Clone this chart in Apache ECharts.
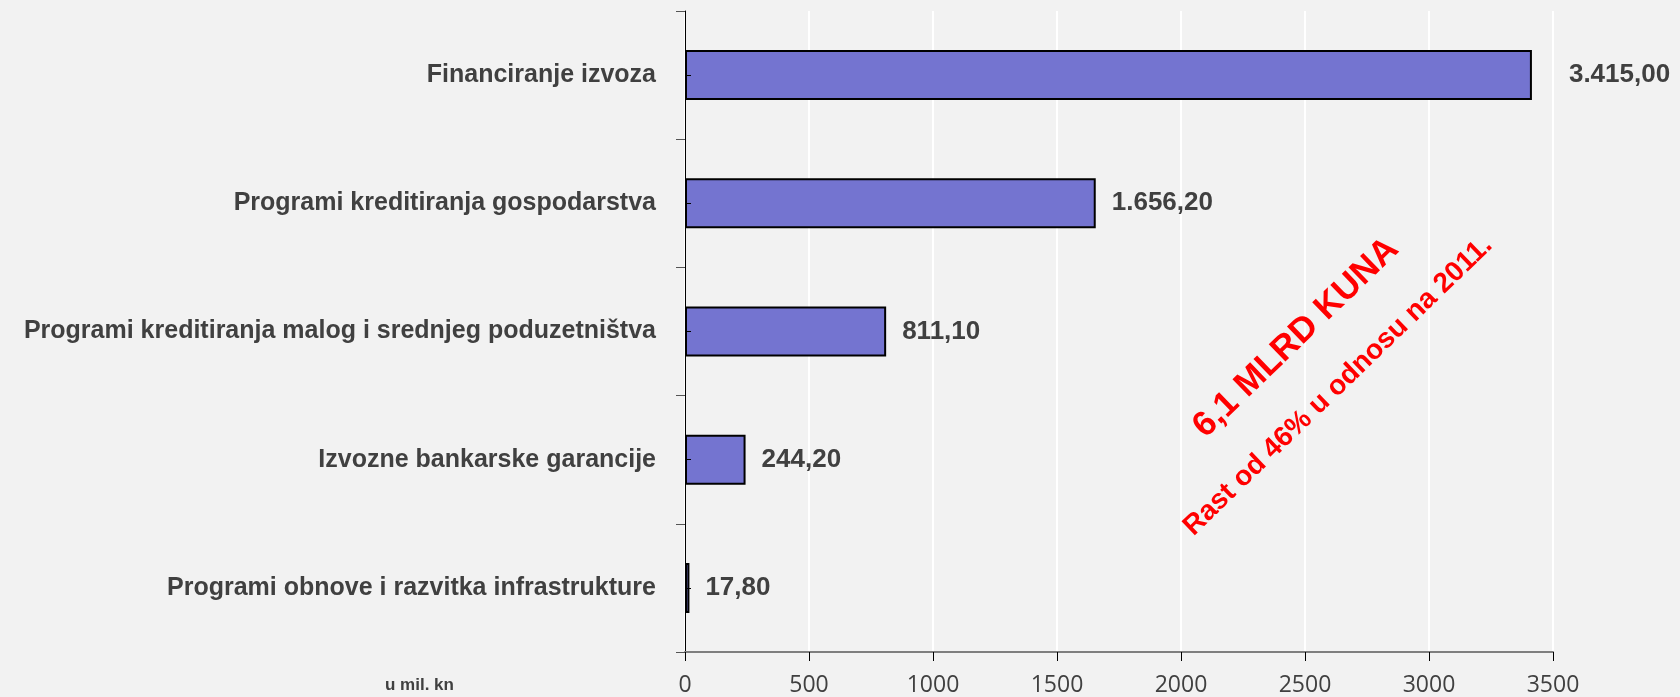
<!DOCTYPE html>
<html><head><meta charset="utf-8">
<script src="https://cdn.jsdelivr.net/npm/echarts@6/dist/echarts.min.js"></script>
<style>html,body{margin:0;padding:0;background:#f2f2f2}#c{width:1680px;height:697px}</style>
</head><body><div id="c"></div>
<script>
const categories = ['Financiranje izvoza','Programi kreditiranja gospodarstva','Programi kreditiranja malog i srednjeg poduzetništva','Izvozne bankarske garancije','Programi obnove i razvitka infrastrukture'];
const values = [3415.00, 1656.20, 811.10, 244.20, 17.80];
const xTicks = [0, 500, 1000, 1500, 2000, 2500, 3000, 3500];
const unitLabel = 'u mil. kn';
const note1 = '6,1 MLRD KUNA';
const note2 = 'Rast od 46% u odnosu na 2011.';

function fmt(v){
  const parts = v.toFixed(2).split('.');
  const int = parts[0].replace(/\B(?=(\d{3})+(?!\d))/g,'.');
  return int + ',' + parts[1];
}
const font = '"Liberation Sans", Arial, sans-serif';
const chart = echarts.init(document.getElementById('c'));
const ang = 44*Math.PI/180;
chart.setOption({
  backgroundColor:'#f2f2f2',
  animation:false,
  grid:{left:685,right:127,top:11,bottom:44,containLabel:false},
  xAxis:{type:'value',min:xTicks[0],max:xTicks[xTicks.length-1],interval:500,
    axisLine:{show:true,lineStyle:{color:'#7f7f7f',width:2}},
    axisTick:{show:true,length:9,lineStyle:{color:'#000',width:1}},
    splitLine:{show:true,lineStyle:{color:'#ffffff',width:2}},
    axisLabel:{color:'#404040',fontSize:23,fontFamily:'"Open Sans", sans-serif',margin:22,formatter:v=>String(v)}},
  yAxis:[{type:'category',data:categories,inverse:true,
    axisLine:{show:true,lineStyle:{color:'#000',width:1}},
    axisTick:{show:true,length:9,lineStyle:{color:'#555'}},
    axisLabel:{color:'#404040',fontSize:25,fontWeight:'bold',fontFamily:font,margin:29}},
   {type:'category',data:categories,inverse:true,position:'left',offset:0,z:10,
    axisLine:{show:false},
    axisTick:{show:true,inside:true,alignWithLabel:true,length:6,lineStyle:{color:'#000',width:1}},
    axisLabel:{show:false},splitLine:{show:false}}],
  series:[{type:'bar',data:values.map((v,i)=>({value:v,label:{offset:[i===0?21:0,0]}})),barWidth:50,
    itemStyle:{color:'#7474d0',borderColor:'#000',borderWidth:2},
    label:{show:true,position:'right',distance:16,formatter:p=>fmt(p.value),color:'#404040',fontSize:26,fontWeight:'bold',fontFamily:font}}],
  graphic:[
    {type:'text',left:385,top:677,z:100,style:{text:unitLabel,fill:'#404040',font:'bold 17px '+font}},
    {type:'text',x:1296,y:338,rotation:ang,z:100,style:{text:note1,fill:'#ff0000',font:'bold 35px '+font,textAlign:'center',textVerticalAlign:'middle'}},
    {type:'text',x:1338,y:386,rotation:ang,z:100,style:{text:note2,fill:'#ff0000',font:'bold 28px '+font,textAlign:'center',textVerticalAlign:'middle'}}
  ]
});
</script></body></html>
